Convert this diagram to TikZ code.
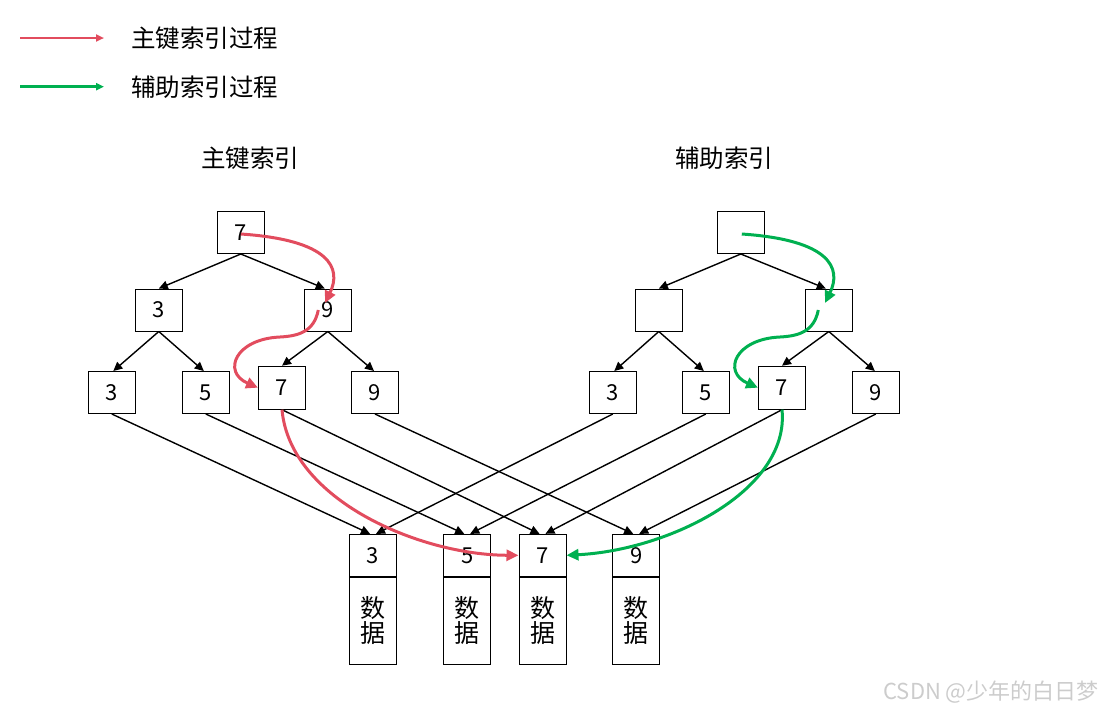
\documentclass[tikz,border=0pt]{standalone}
\usepackage{fontspec}
\setmainfont{Noto Sans CJK SC}
\usetikzlibrary{arrows.meta,calc}
\definecolor{myred}{RGB}{226,76,94}
\definecolor{mygreen}{RGB}{0,176,80}
\begin{document}
\begin{tikzpicture}[x=1pt,y=-1pt,
  box/.style={draw,line width=1pt,minimum width=47pt,minimum height=42pt,inner sep=0pt,font=\fontsize{22}{26}\selectfont},
  datbox/.style={draw,line width=1pt,minimum width=47pt,minimum height=87pt,inner sep=0pt,font=\fontsize{25}{28}\selectfont,align=center},
  edge/.style={line width=1.4pt,-{Triangle[length=9pt,width=8.5pt]}},
  redpath/.style={myred,line width=3pt,-{Triangle[length=12pt,width=11pt]}},
  greenpath/.style={mygreen,line width=3pt,-{Triangle[length=12pt,width=11pt]}},
  lbl/.style={font=\fontsize{24.5}{28}\selectfont,inner sep=0pt}]
\useasboundingbox (0,0) rectangle (1103,713);

% legend
\coordinate (lr1) at (20,38); \coordinate (lr2) at (104,38);
\coordinate (lg1) at (20,86.7); \coordinate (lg2) at (104,86.7);
\draw[myred,line width=2.5pt,-{Triangle[length=8pt,width=7pt]}] (lr1) -- (lr2);
\draw[mygreen,line width=2.5pt,-{Triangle[length=8pt,width=7pt]}] (lg1) -- (lg2);
\node[lbl,anchor=west] (legr) at (131,38) {主键索引过程};
\node[lbl,anchor=west] (legg) at (131,86.7) {辅助索引过程};

% titles
\node[lbl] (t1) at (250,158) {主键索引};
\node[lbl] (t2) at (724,158) {辅助索引};

% left tree
\node[box] (L1) at (240.8,232.5) {7};
\node[box] (L2a) at (158.8,310) {3};
\node[box] (L2b) at (327.8,310) {9};
\node[box] (L3a) at (111.8,392.5) {3};
\node[box] (L3b) at (205.8,392.5) {5};
\node[box,minimum height=43pt] (L3c) at (282,387.7) {7};
\node[box] (L3d) at (375,392.5) {9};

% right tree
\node[box] (R1) at (740.8,232.5) {};
\node[box] (R2a) at (658.8,310) {};
\node[box] (R2b) at (828.8,310) {};
\node[box] (R3a) at (612.8,392.5) {3};
\node[box] (R3b) at (705.8,392.5) {5};
\node[box,minimum height=43pt] (R3c) at (782,387.7) {7};
\node[box] (R3d) at (875.8,392.5) {9};

% data boxes
\node[box] (D3) at (373,555.3) {3};
\node[box] (D5) at (467.2,555.3) {5};
\node[box] (D7) at (542.5,555.3) {7};
\node[box] (D9) at (636.2,555.3) {9};
\node[datbox,anchor=north] (E3) at (D3.south) {数\\[-3pt]据};
\node[datbox,anchor=north] (E5) at (D5.south) {数\\[-3pt]据};
\node[datbox,anchor=north] (E7) at (D7.south) {数\\[-3pt]据};
\node[datbox,anchor=north] (E9) at (D9.south) {数\\[-3pt]据};

% tree edges
\draw[edge] (L1.south) -- (L2a.north);
\draw[edge] (L1.south) -- ($(L2b.north)+(-3,0)$);
\draw[edge] (L2a.south) -- ($(L3a.north)+(1.5,0)$);
\draw[edge] (L2a.south) -- ($(L3b.north)+(-2,0)$);
\draw[edge] (L2b.south) -- (L3c.north);
\draw[edge] (L2b.south) -- ($(L3d.north)+(-1,0)$);
\draw[edge] (R1.south) -- (R2a.north);
\draw[edge] (R1.south) -- ($(R2b.north)+(-3,0)$);
\draw[edge] (R2a.south) -- ($(R3a.north)+(1.5,0)$);
\draw[edge] (R2a.south) -- ($(R3b.north)+(-2,0)$);
\draw[edge] (R2b.south) -- (R3c.north);
\draw[edge] (R2b.south) -- ($(R3d.north)+(-1,0)$);

% leaf to data edges
\draw[edge] (L3a.south) -- ($(D3.north)+(-3,0)$);
\draw[edge] (L3b.south) -- ($(D5.north)+(-3,0)$);
\draw[edge] (L3c.south) -- ($(D7.north)+(-3,0)$);
\draw[edge] (L3d.south) -- ($(D9.north)+(-3,0)$);
\draw[edge] (R3a.south) -- ($(D3.north)+(3,0)$);
\draw[edge] (R3b.south) -- ($(D5.north)+(3,0)$);
\draw[edge] (R3c.south) -- ($(D7.north)+(3,0)$);
\draw[edge] (R3d.south) -- ($(D9.north)+(3,0)$);

% red path
\coordinate (ra) at ($(L1.center)+(0,1.5)$);
\coordinate (rb) at ($(L2b.center)+(-2.8,-7)$);
\coordinate (rc) at ($(L2b.center)+(-9.5,0)$);
\draw[redpath] (ra) .. controls (330,240) and (342,268) .. (rb);
\draw[redpath] (rc) .. controls (314,332) and (298,336) .. (280,337)
  .. controls (235,339) and (222,372) .. (L3c.west);
\draw[redpath] (L3c.south) .. controls (290,500) and (420,555) .. (D7.west);

% green path
\coordinate (ga) at ($(R1.center)+(1,1.5)$);
\coordinate (gb) at ($(R2b.center)+(-3.8,-7)$);
\coordinate (gc) at ($(R2b.center)+(-10.5,0)$);
\draw[greenpath] (ga) .. controls (830,240) and (842,268) .. (gb);
\draw[greenpath] (gc) .. controls (814,332) and (798,336) .. (780,337)
  .. controls (735,339) and (722,372) .. (R3c.west);
\draw[greenpath] (R3c.south) .. controls (790,490) and (670,550) .. (D7.east);

% watermark
\node[anchor=east,text=black!20,font=\fontsize{22}{26}\selectfont,inner sep=0pt] (wm) at (1099,692) {CSDN @少年的白日梦};
\end{tikzpicture}
\end{document}
